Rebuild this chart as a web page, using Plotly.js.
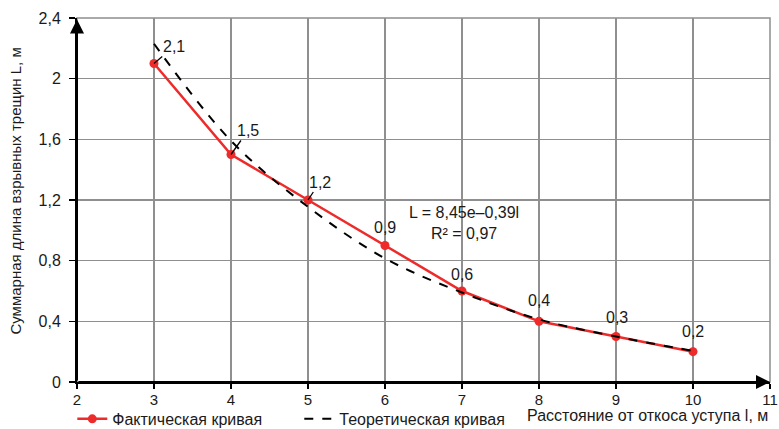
<!DOCTYPE html>
<html>
<head>
<meta charset="utf-8">
<script src="https://cdn.plot.ly/plotly-3.0.1.min.js"></script>
<style>html,body{margin:0;padding:0;background:#fff;}#chart{width:779px;height:429px;}</style>
</head>
<body>
<div id="chart"></div>
<script>
// Data
var distance = [3, 4, 5, 6, 7, 8, 9, 10];
var actualLength = [2.1, 1.5, 1.2, 0.9, 0.6, 0.4, 0.3, 0.2];
var actualLabels = ['2,1', '1,5', '1,2', '0,9', '0,6', '0,4', '0,3', '0,2'];
var theoryDistance = [3, 4, 5, 6, 7, 8, 9, 10];
var theoryLength = [2.23, 1.59, 1.155, 0.815, 0.59, 0.413, 0.30, 0.205];
var yTickVals = [0, 0.4, 0.8, 1.2, 1.6, 2, 2.4];
var yTickText = ['0', '0,4', '0,8', '1,2', '1,6', '2', '2,4'];
var xTickVals = [2, 3, 4, 5, 6, 7, 8, 9, 10, 11];

var font = 'Liberation Sans, Arial, sans-serif';
var txt = '#1a1a1a';

var traces = [
  {
    x: distance, y: actualLength, type: 'scatter', mode: 'lines+markers',
    name: 'Фактическая кривая',
    line: {color: '#ee2b2b', width: 2.5},
    marker: {color: '#ee2b2b', size: 9},
    cliponaxis: false
  },
  {
    x: theoryDistance, y: theoryLength, type: 'scatter', mode: 'lines',
    name: 'Теоретическая кривая',
    line: {color: '#000', width: 2, dash: 'dash', shape: 'spline'},
    cliponaxis: false
  }
];

// label offsets (pixels) and leader visibility
var offX = [20, 17, 12, 0, 0, 0, 1, 0];
var offY = [-17, -24, -18, -18, -17, -21, -19, -20];
var leader = [true, true, true, false, false, false, false, false];

var annotations = [];
for (var i = 0; i < distance.length; i++) {
  annotations.push({
    x: distance[i], y: actualLength[i], xref: 'x', yref: 'y',
    text: actualLabels[i], showarrow: true, arrowhead: 0,
    arrowwidth: 1.3, arrowcolor: leader[i] ? '#000' : 'rgba(0,0,0,0)',
    ax: offX[i], ay: offY[i], standoff: 0,
    font: {family: font, size: 16, color: txt}
  });
}
annotations.push({
  x: 7.02, y: 1.0475, xref: 'x', yref: 'y', showarrow: false,
  text: 'L = 8,45e–0,39l<br>R² = 0,97', align: 'center',
  font: {family: font, size: 16, color: txt}
});
// axis arrows
annotations.push({
  x: 11.0, y: 0, ax: 2, ay: 0, xref: 'x', yref: 'y', axref: 'x', ayref: 'y',
  text: '', showarrow: true, arrowhead: 2, arrowsize: 1.4, arrowwidth: 2, arrowcolor: '#000'
});
annotations.push({
  x: 2, y: 2.39, ax: 2, ay: 0, xref: 'x', yref: 'y', axref: 'x', ayref: 'y',
  text: '', showarrow: true, arrowhead: 2, arrowsize: 1.4, arrowwidth: 2, arrowcolor: '#000'
});
// axis titles
annotations.push({
  x: 1.0, y: -0.0916, xref: 'paper', yref: 'paper', xanchor: 'right', yanchor: 'middle',
  text: 'Расстояние от откоса уступа l, м', showarrow: false,
  font: {family: font, size: 16, color: txt}
});
annotations.push({
  x: -0.089, y: 0.524, xref: 'paper', yref: 'paper', xanchor: 'center', yanchor: 'middle',
  text: 'Суммарная длина взрывных трещин L, м', showarrow: false, textangle: -90,
  font: {family: font, size: 15, color: txt}
});

var layout = {
  width: 779, height: 429,
  margin: {l: 76.7, r: 9.3, t: 18, b: 47.3, autoexpand: false},
  paper_bgcolor: '#fff', plot_bgcolor: '#fff',
  font: {family: font, size: 16, color: txt},
  showlegend: true,
  legend: {
    orientation: 'h', x: -0.0068, y: -0.1015, xanchor: 'left', yanchor: 'middle',
    font: {family: font, size: 16, color: txt},
    bgcolor: 'rgba(0,0,0,0)', entrywidth: 182, entrywidthmode: 'pixels'
  },
  xaxis: {
    range: [2, 11], tickvals: xTickVals, ticktext: xTickVals.map(String),
    showgrid: true, gridcolor: '#8f8f8f', gridwidth: 1.5,
    zeroline: false, showline: true, linecolor: '#000', linewidth: 2,
    ticks: 'outside', ticklen: 5, tickwidth: 1.5, tickcolor: '#000',
    ticklabelstandoff: -2,
    tickfont: {family: font, size: 15, color: txt}
  },
  yaxis: {
    range: [0, 2.4], tickvals: yTickVals, ticktext: yTickText,
    showgrid: true, gridcolor: '#8f8f8f', gridwidth: 1.5,
    zeroline: false, showline: true, linecolor: '#000', linewidth: 2,
    ticks: 'outside', ticklen: 6, tickwidth: 1.5, tickcolor: '#000',
    ticklabelstandoff: 5,
    tickfont: {family: font, size: 16, color: txt}
  },
  shapes: [{
    type: 'rect', xref: 'paper', yref: 'paper', x0: 0, x1: 1, y0: 0, y1: 1,
    line: {color: '#8f8f8f', width: 1.5}, layer: 'below'
  }],
  annotations: annotations
};

Plotly.newPlot('chart', traces, layout, {displayModeBar: false, staticPlot: true});
</script>
</body>
</html>
